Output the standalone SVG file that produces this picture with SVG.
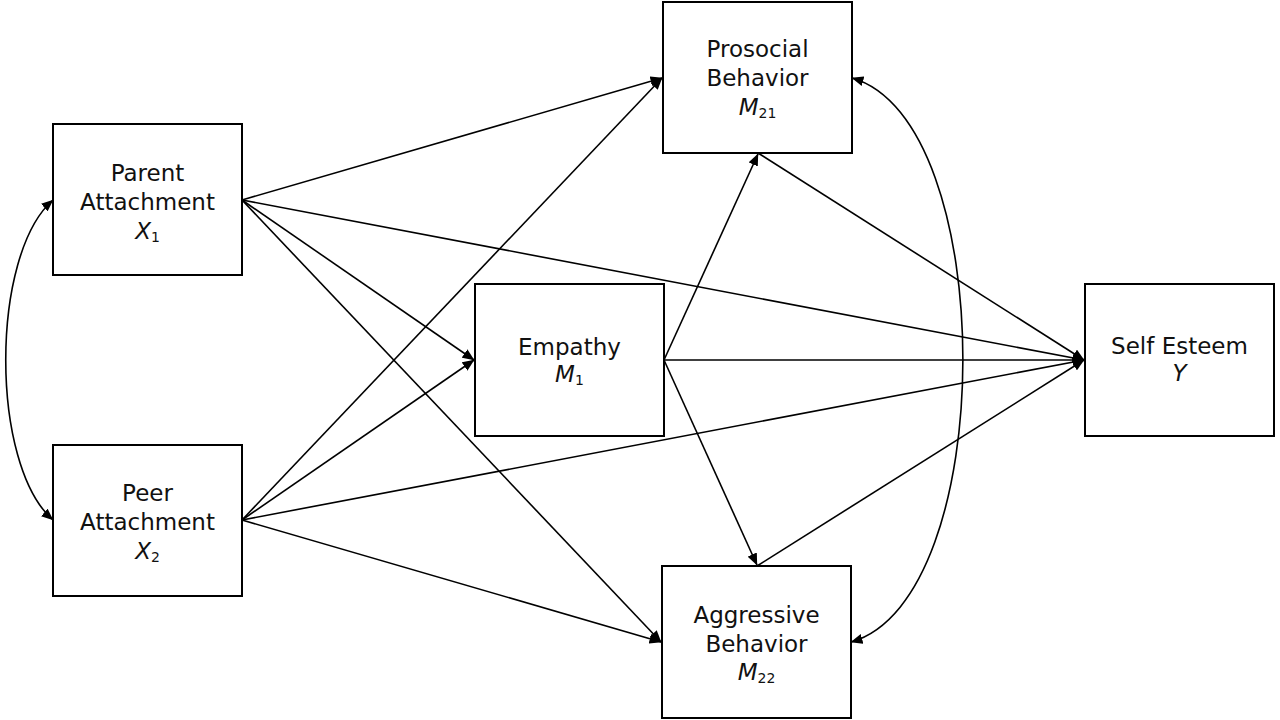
<svg xmlns="http://www.w3.org/2000/svg" width="1280" height="720" viewBox="0 0 1280 720">
<style>
.box{fill:#fff;stroke:#000;stroke-width:2}
.lbl{font-family:"DejaVu Sans",Verdana,sans-serif;font-size:23px;fill:#111;text-anchor:middle}
.it{font-style:italic}
.sub{font-size:14px;font-style:normal}
.c{fill:none;stroke:#000;stroke-width:1.6}
</style>
<defs>
<marker id="ah" viewBox="0 0 12 10" refX="11.5" refY="5" markerWidth="12" markerHeight="10" markerUnits="userSpaceOnUse" orient="auto-start-reverse">
<path d="M0,0 L12,5 L0,10 z" fill="#000"/>
</marker>
</defs>
<rect width="1280" height="720" fill="#fff"/>
<g id="connectors">
<line class="c" x1="242" y1="200" x2="662" y2="78" marker-end="url(#ah)"/>
<line class="c" x1="242" y1="200" x2="474" y2="360" marker-end="url(#ah)"/>
<line class="c" x1="242" y1="200" x2="1084" y2="360" marker-end="url(#ah)"/>
<line class="c" x1="242" y1="200" x2="661" y2="642" marker-end="url(#ah)"/>
<line class="c" x1="242" y1="520" x2="662" y2="78" marker-end="url(#ah)"/>
<line class="c" x1="242" y1="520" x2="474" y2="360" marker-end="url(#ah)"/>
<line class="c" x1="242" y1="520" x2="1084" y2="360" marker-end="url(#ah)"/>
<line class="c" x1="242" y1="520" x2="661" y2="642" marker-end="url(#ah)"/>
<line class="c" x1="664" y1="360" x2="758" y2="154" marker-end="url(#ah)"/>
<line class="c" x1="664" y1="360" x2="1084" y2="360" marker-end="url(#ah)"/>
<line class="c" x1="664" y1="360" x2="757" y2="565" marker-end="url(#ah)"/>
<line class="c" x1="758" y1="153" x2="1084" y2="360" marker-end="url(#ah)"/>
<line class="c" x1="757" y1="566" x2="1084" y2="360" marker-end="url(#ah)"/>
<path class="c" d="M53,200 C-10,255 -10,465 53,520" marker-start="url(#ah)" marker-end="url(#ah)"/>
<path class="c" d="M852,78 C1000,120 1000,600 851,642" marker-start="url(#ah)" marker-end="url(#ah)"/>
</g>
<g id="parent">
<rect class="box" x="53" y="124" width="189" height="151"/>
<text class="lbl" x="147.5" y="181">Parent</text>
<text class="lbl" x="147.5" y="210">Attachment</text>
<text class="lbl" x="147.5" y="239"><tspan class="it">X</tspan><tspan class="sub" dy="3">1</tspan></text>
</g>
<g id="peer">
<rect class="box" x="53" y="445" width="189" height="151"/>
<text class="lbl" x="147.5" y="501">Peer</text>
<text class="lbl" x="147.5" y="530">Attachment</text>
<text class="lbl" x="147.5" y="559"><tspan class="it">X</tspan><tspan class="sub" dy="3">2</tspan></text>
</g>
<g id="empathy">
<rect class="box" x="475" y="284" width="189" height="152"/>
<text class="lbl" x="569.5" y="355">Empathy</text>
<text class="lbl" x="569.5" y="382"><tspan class="it">M</tspan><tspan class="sub" dy="3">1</tspan></text>
</g>
<g id="prosocial">
<rect class="box" x="663" y="2" width="189" height="151"/>
<text class="lbl" x="757.5" y="57">Prosocial</text>
<text class="lbl" x="757.5" y="86">Behavior</text>
<text class="lbl" x="757.5" y="115"><tspan class="it">M</tspan><tspan class="sub" dy="3">21</tspan></text>
</g>
<g id="aggressive">
<rect class="box" x="662" y="566" width="189" height="152"/>
<text class="lbl" x="756.5" y="623">Aggressive</text>
<text class="lbl" x="756.5" y="652">Behavior</text>
<text class="lbl" x="756.5" y="680"><tspan class="it">M</tspan><tspan class="sub" dy="3">22</tspan></text>
</g>
<g id="selfesteem">
<rect class="box" x="1085" y="284" width="189" height="152"/>
<text class="lbl" x="1179.5" y="354">Self Esteem</text>
<text class="lbl it" x="1179.5" y="381">Y</text>
</g>
</svg>
